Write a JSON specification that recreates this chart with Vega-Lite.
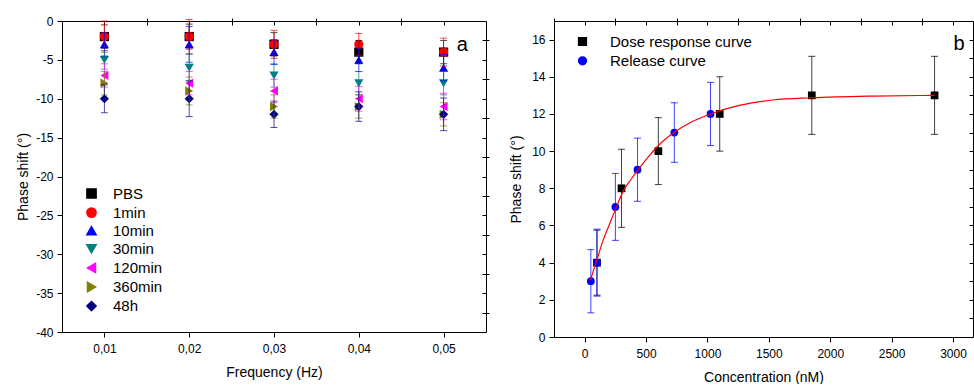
{
  "$schema": "https://vega.github.io/schema/vega-lite/v6.json",
  "padding": {"left": 16, "top": 15, "right": 0, "bottom": 0},
  "background": "white",
  "config": {
    "font": "Liberation Sans",
    "view": {"stroke": null},
    "axis": {
      "grid": false, "domainColor": "#000", "tickColor": "#000", "labelColor": "#000", "titleColor": "#000",
      "labelFont": "Liberation Sans", "titleFont": "Liberation Sans", "labelFontSize": 12, "titleFontSize": 14,
      "titleFontWeight": "normal", "labelPadding": 4, "tickSize": 5, "domainWidth": 1, "tickWidth": 1
    },
    "legend": {"labelFont": "Liberation Sans", "labelColor": "#000"}
  },
  "spacing": 68,
  "bounds": "flush",
  "resolve": {"scale": {"color": "independent", "shape": "independent"}, "legend": {"color": "independent", "shape": "independent"}},
  "hconcat": [
    {
      "width": 424,
      "height": 311,
      "data": {"values": [
        {"f": 0.01, "s": "PBS", "v": -2, "e": 1.5},
        {"f": 0.02, "s": "PBS", "v": -2, "e": 1.6},
        {"f": 0.03, "s": "PBS", "v": -3, "e": 1.5},
        {"f": 0.04, "s": "PBS", "v": -4, "e": 1.5},
        {"f": 0.05, "s": "PBS", "v": -4, "e": 1.5},
        {"f": 0.01, "s": "1min", "v": -2, "e": 2.0},
        {"f": 0.02, "s": "1min", "v": -2, "e": 2.2},
        {"f": 0.03, "s": "1min", "v": -3, "e": 1.8},
        {"f": 0.04, "s": "1min", "v": -3, "e": 1.4},
        {"f": 0.05, "s": "1min", "v": -4, "e": 1.8},
        {"f": 0.01, "s": "10min", "v": -3, "e": 1.5},
        {"f": 0.02, "s": "10min", "v": -3, "e": 2.3},
        {"f": 0.03, "s": "10min", "v": -4, "e": 1.6},
        {"f": 0.04, "s": "10min", "v": -5, "e": 1.5},
        {"f": 0.05, "s": "10min", "v": -6, "e": 1.7},
        {"f": 0.01, "s": "30min", "v": -5, "e": 1.2},
        {"f": 0.02, "s": "30min", "v": -6, "e": 1.7},
        {"f": 0.03, "s": "30min", "v": -7, "e": 1.5},
        {"f": 0.04, "s": "30min", "v": -8, "e": 1.5},
        {"f": 0.05, "s": "30min", "v": -8, "e": 1.5},
        {"f": 0.01, "s": "120min", "v": -7, "e": 1.5},
        {"f": 0.02, "s": "120min", "v": -8, "e": 1.5},
        {"f": 0.03, "s": "120min", "v": -9, "e": 1.5},
        {"f": 0.04, "s": "120min", "v": -10, "e": 1.6},
        {"f": 0.05, "s": "120min", "v": -11, "e": 1.7},
        {"f": 0.01, "s": "360min", "v": -8, "e": 1.5},
        {"f": 0.02, "s": "360min", "v": -9, "e": 1.8},
        {"f": 0.03, "s": "360min", "v": -11, "e": 1.5},
        {"f": 0.04, "s": "360min", "v": -11, "e": 1.5},
        {"f": 0.05, "s": "360min", "v": -12, "e": 1.5},
        {"f": 0.01, "s": "48h", "v": -10, "e": 1.8},
        {"f": 0.02, "s": "48h", "v": -10, "e": 2.3},
        {"f": 0.03, "s": "48h", "v": -12, "e": 1.7},
        {"f": 0.04, "s": "48h", "v": -11, "e": 1.9},
        {"f": 0.05, "s": "48h", "v": -12, "e": 2.1}
      ]},
      "layer": [
        {
          "mark": {"type": "point", "filled": true, "size": 85, "opacity": 1},
          "encoding": {
            "x": {"field": "f", "type": "quantitative",
              "scale": {"domain": [0.005, 0.055], "nice": false, "zero": false},
              "axis": {"values": [0.01, 0.02, 0.03, 0.04, 0.05], "labelExpr": "replace(format(datum.value, '.2f'), '.', ',')", "labelPadding": 6, "title": "Frequency (Hz)", "titlePadding": 11}},
            "y": {"field": "v", "type": "quantitative",
              "scale": {"domain": [-40, 0], "nice": false, "zero": false},
              "axis": {"values": [0, -5, -10, -15, -20, -25, -30, -35, -40], "labelExpr": "datum.value < 0 ? '-' + format(-datum.value, 'd') : format(datum.value, 'd')", "title": "Phase shift (°)", "titlePadding": 5}},
            "color": {"field": "s", "type": "nominal",
              "scale": {"domain": ["PBS", "1min", "10min", "30min", "120min", "360min", "48h"],
                "range": ["#000000", "#ff0000", "#0000ff", "#008080", "#ff00ff", "#808000", "#000080"]},
              "legend": {"orient": "none", "legendX": 22, "legendY": 165, "title": null, "labelFontSize": 15, "symbolSize": 85, "rowPadding": 2.1, "labelOffset": 14, "padding": 0}},
            "shape": {"field": "s", "type": "nominal",
              "scale": {"domain": ["PBS", "1min", "10min", "30min", "120min", "360min", "48h"],
                "range": ["square", "circle", "triangle-up", "triangle-down", "triangle-left", "triangle-right", "diamond"]},
              "legend": {"orient": "none", "legendX": 22, "legendY": 165, "title": null, "labelFontSize": 15, "symbolSize": 85, "rowPadding": 2.1, "labelOffset": 14, "padding": 0}}
          }
        },
        {
          "mark": {"type": "errorbar", "ticks": {"size": 7}, "thickness": 1, "opacity": 0.7},
          "encoding": {
            "x": {"field": "f", "type": "quantitative",
              "axis": {"values": [0.015, 0.025, 0.035, 0.045], "labels": false, "domain": false, "tickSize": 3, "title": null}},
            "y": {"field": "v", "type": "quantitative",
              "axis": {"values": [-2.5, -7.5, -12.5, -17.5, -22.5, -27.5, -32.5, -37.5], "labels": false, "domain": false, "tickSize": 3, "title": null}},
            "yError": {"field": "e"},
            "color": {"field": "s", "type": "nominal"}
          }
        },
        {
          "data": {"values": [{"label": "a"}]},
          "mark": {"type": "text", "fontSize": 20, "align": "center", "baseline": "middle", "color": "#000"},
          "encoding": {
            "x": {"datum": 0.0522, "type": "quantitative",
              "axis": {"orient": "top", "values": [0.01, 0.015, 0.02, 0.025, 0.03, 0.035, 0.04, 0.045, 0.05], "labels": false, "tickSize": -4, "title": null}},
            "y": {"datum": -3.1, "type": "quantitative",
              "axis": {"orient": "right", "values": [-2.5, -5, -7.5, -10, -12.5, -15, -17.5, -20, -22.5, -25, -27.5, -30, -32.5, -35, -37.5], "labels": false, "tickSize": -4, "title": null}},
            "text": {"field": "label"}
          }
        }
      ],
      "resolve": {"axis": {"x": "independent", "y": "independent"}}
    },
    {
      "width": 419,
      "height": 316,
      "data": {"values": [
        {"c": 100, "s": "Dose response curve", "v": 4, "e": 1.75},
        {"c": 300, "s": "Dose response curve", "v": 8, "e": 2.1},
        {"c": 600, "s": "Dose response curve", "v": 10, "e": 1.8},
        {"c": 1100, "s": "Dose response curve", "v": 12, "e": 2.0},
        {"c": 1850, "s": "Dose response curve", "v": 13, "e": 2.1},
        {"c": 2850, "s": "Dose response curve", "v": 13, "e": 2.1},
        {"c": 50, "s": "Release curve", "v": 3, "e": 1.7},
        {"c": 100, "s": "Release curve", "v": 4, "e": 1.8},
        {"c": 250, "s": "Release curve", "v": 7, "e": 1.8},
        {"c": 430, "s": "Release curve", "v": 9, "e": 1.7},
        {"c": 730, "s": "Release curve", "v": 11, "e": 1.6},
        {"c": 1025, "s": "Release curve", "v": 12, "e": 1.7}
      ]},
      "layer": [
        {
          "mark": {"type": "point", "filled": true, "size": 60, "opacity": 1},
          "encoding": {
            "x": {"field": "c", "type": "quantitative",
              "scale": {"domain": [-250, 3163], "nice": false, "zero": false},
              "axis": {"values": [0, 500, 1000, 1500, 2000, 2500, 3000], "format": "d", "labelPadding": 6, "title": "Concentration (nM)", "titlePadding": 11}},
            "y": {"field": "v", "type": "quantitative",
              "scale": {"domain": [0, 17], "nice": false, "zero": false},
              "axis": {"values": [0, 2, 4, 6, 8, 10, 12, 14, 16], "title": "Phase shift (°)", "titlePadding": 8}},
            "color": {"field": "s", "type": "nominal",
              "scale": {"domain": ["Dose response curve", "Release curve"], "range": ["#000000", "#0000ff"]},
              "legend": {"orient": "none", "legendX": 21, "legendY": 13, "title": null, "labelFontSize": 15, "symbolSize": 60, "rowPadding": 3.3, "labelOffset": 20, "padding": 0}},
            "shape": {"field": "s", "type": "nominal",
              "scale": {"domain": ["Dose response curve", "Release curve"], "range": ["square", "circle"]},
              "legend": {"orient": "none", "legendX": 21, "legendY": 13, "title": null, "labelFontSize": 15, "symbolSize": 60, "rowPadding": 3.3, "labelOffset": 20, "padding": 0}}
          }
        },
        {
          "mark": {"type": "errorbar", "ticks": {"size": 7}, "thickness": 1, "opacity": 0.75},
          "encoding": {
            "x": {"field": "c", "type": "quantitative",
              "axis": {"values": [-250, 250, 750, 1250, 1750, 2250, 2750], "labels": false, "domain": false, "tickSize": 3, "title": null}},
            "y": {"field": "v", "type": "quantitative",
              "axis": {"values": [1, 3, 5, 7, 9, 11, 13, 15], "labels": false, "domain": false, "tickSize": 3, "title": null}},
            "yError": {"field": "e"},
            "color": {"field": "s", "type": "nominal"}
          }
        },
        {
          "data": {"values": [
            {"cx": 46, "cy": 3.05}, {"cx": 92, "cy": 4.0}, {"cx": 150, "cy": 5.2}, {"cx": 210, "cy": 6.2},
            {"cx": 259, "cy": 7.0}, {"cx": 318, "cy": 7.9}, {"cx": 380, "cy": 8.5}, {"cx": 436, "cy": 9.0},
            {"cx": 520, "cy": 9.7}, {"cx": 600, "cy": 10.3}, {"cx": 727, "cy": 11.0}, {"cx": 850, "cy": 11.5},
            {"cx": 1027, "cy": 12.0}, {"cx": 1258, "cy": 12.46}, {"cx": 1530, "cy": 12.75}, {"cx": 1852, "cy": 12.87},
            {"cx": 2347, "cy": 12.96}, {"cx": 2851, "cy": 13.0}
          ]},
          "mark": {"type": "line", "color": "#ff0000", "strokeWidth": 1.2, "interpolate": "monotone"},
          "encoding": {
            "x": {"field": "cx", "type": "quantitative",
              "axis": {"orient": "top", "values": [-250, 0, 250, 500, 750, 1000, 1250, 1500, 1750, 2000, 2250, 2500, 2750, 3000], "labels": false, "tickSize": -4, "title": null}},
            "y": {"field": "cy", "type": "quantitative",
              "axis": {"orient": "right", "values": [1, 2, 3, 4, 5, 6, 7, 8, 9, 10, 11, 12, 13, 14, 15, 16], "labels": false, "tickSize": -4, "title": null}}
          }
        },
        {
          "data": {"values": [{"label": "b"}]},
          "mark": {"type": "text", "fontSize": 20, "align": "center", "baseline": "middle", "color": "#000"},
          "encoding": {
            "x": {"datum": 3049, "type": "quantitative", "axis": null},
            "y": {"datum": 15.75, "type": "quantitative", "axis": null},
            "text": {"field": "label"}
          }
        }
      ],
      "resolve": {"axis": {"x": "independent", "y": "independent"}}
    }
  ]
}
